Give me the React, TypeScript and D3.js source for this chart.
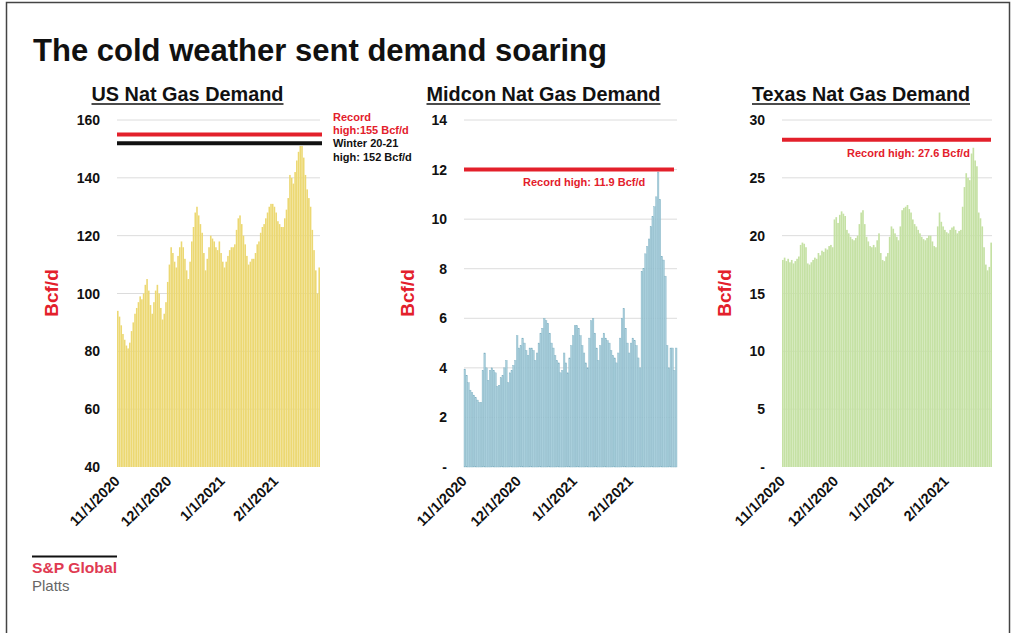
import React from 'react';
import * as d3 from 'd3';

// daily demand, 11/1/2020 through 2/26/2021 (Bcf/d)
const dates = d3.timeDay.range(new Date(2020, 10, 1), new Date(2021, 1, 27));
const dateTicks = [new Date(2020, 10, 1), new Date(2020, 11, 1), new Date(2021, 0, 1), new Date(2021, 1, 1)];

const usDemand = [
  94, 92, 89, 86, 84, 82, 81, 83, 87, 90,
  93, 95, 97, 99, 98, 100, 103, 105, 101, 96,
  93, 97, 101, 103, 100, 95, 91, 93, 97, 104,
  110, 116, 114, 111, 109, 113, 116, 118, 116, 112,
  108, 105, 111, 118, 123, 128, 130, 127, 124, 121,
  114, 108, 112, 116, 120, 119, 118, 116, 115, 118,
  114, 111, 109, 111, 113, 115, 116, 116, 117, 122,
  126, 127, 124, 120, 117, 113, 110, 111, 112, 112,
  114, 117, 118, 121, 123, 124, 126, 128, 130, 131,
  131, 130, 128, 125, 124, 123, 123, 126, 129, 133,
  141, 140, 138, 142, 146, 149, 151, 151, 147, 141,
  136, 133, 130, 122, 115, 108, 100, 109,
];

const midconDemand = [
  3.95, 3.7, 3.4, 3.1, 3.0, 2.9, 2.8, 2.7, 2.6, 2.6,
  3.9, 4.6, 4.0, 3.5, 3.9, 4.0, 3.9, 3.8, 3.25, 3.3,
  3.6, 3.7, 4.0, 4.3, 3.4, 3.8, 3.9, 4.1, 4.3, 5.3,
  4.8, 4.9, 5.2, 5.0, 4.7, 4.5, 4.8, 4.8, 4.7, 4.3,
  4.6, 5.0, 5.4, 5.6, 6.0, 5.9, 5.8, 5.4, 5.0, 4.8,
  4.5, 4.3, 4.2, 3.8, 3.9, 4.6, 4.2, 3.8, 4.4, 4.9,
  5.3, 5.7, 5.7, 5.6, 5.3, 4.9, 4.6, 4.2, 4.0, 5.2,
  5.9, 6.0, 5.4, 4.8, 4.3, 4.9, 5.2, 5.4, 5.2, 5.1,
  5.0, 4.7, 4.5, 4.4, 4.2, 4.6, 5.2, 6.0, 6.4, 5.6,
  5.0, 4.6, 5.0, 5.2, 5.1, 4.9, 4.4, 4.0, 7.9, 8.0,
  8.6, 8.9, 9.2, 9.7, 10.1, 10.5, 10.9, 11.9, 10.8, 8.5,
  8.35, 7.7, 4.9, 4.0, 4.8, 4.8, 3.9, 4.8,
];

const texasDemand = [
  17.9, 18.1, 17.8, 18.0, 17.7, 17.9, 17.6, 17.8, 18.0, 18.2,
  19.2, 19.4, 19.3, 19.0, 17.6, 17.5, 17.7, 17.9, 18.1, 18.0,
  18.5, 18.3, 18.7, 18.6, 18.9, 18.8, 19.1, 19.2, 19.0, 21.4,
  21.6, 21.1, 21.8, 22.1, 21.9, 21.7, 20.5, 20.2, 19.9, 19.7,
  19.6, 19.8, 20.0, 21.0, 22.0, 22.2, 21.0, 19.9, 19.5, 19.1,
  19.0, 19.2, 19.0, 19.6, 20.2, 18.5, 17.9, 17.8, 18.2, 18.5,
  19.9, 20.8, 20.6, 20.2, 19.9, 19.6, 20.8, 22.2, 22.4, 22.5,
  22.65, 22.3, 22.0, 21.4, 21.0, 20.8, 20.5, 20.2, 19.9, 19.7,
  19.6, 19.8, 20.0, 20.0, 19.5, 19.1, 19.0, 20.8, 22.0, 21.2,
  20.8, 20.5, 20.3, 20.2, 20.5, 20.7, 20.8, 20.5, 20.2, 20.4,
  20.5, 22.5, 24.2, 25.4, 25.0, 24.8, 27.1, 27.6, 26.5, 26.0,
  22.0, 21.5, 20.8, 19.0, 17.5, 17.0, 17.3, 19.4,
];

const usTicks = [40, 60, 80, 100, 120, 140, 160];
const midconTicks = [0, 2, 4, 6, 8, 10, 12, 14];
const texasTicks = [0, 5, 10, 15, 20, 25, 30];

const RED = '#e3202b';
const FONT = '"Liberation Sans", Arial, sans-serif';

const panels = [
  {
    title: 'US Nat Gas Demand', titleX: 187.5, titleW: 192,
    values: usDemand, ticks: usTicks, left: 117, right: 320, yTitleX: 58,
    fill: '#ecd872', stroke: 'none', pad: 0.08,
    lines: [{ value: 155, color: RED, x2: 322 }, { value: 152, color: '#111', x2: 322 }],
    notes: [
      { text: 'Record', x: 333, y: 121, color: RED },
      { text: 'high:155 Bcf/d', x: 333, y: 134, color: RED },
      { text: 'Winter 20-21', x: 333, y: 147, color: '#111' },
      { text: 'high: 152 Bcf/d', x: 333, y: 161, color: '#111' },
    ],
  },
  {
    title: 'Midcon Nat Gas Demand', titleX: 543.5, titleW: 234,
    values: midconDemand, ticks: midconTicks, left: 464, right: 677, yTitleX: 414,
    fill: '#a9cfdc', stroke: '#82b2c3', pad: 0.12,
    lines: [{ value: 12, color: RED, x2: 674 }],
    notes: [{ text: 'Record high: 11.9 Bcf/d', x: 523, y: 185.5, color: RED }],
  },
  {
    title: 'Texas Nat Gas Demand', titleX: 861, titleW: 218,
    values: texasDemand, ticks: texasTicks, left: 782, right: 992, yTitleX: 731,
    fill: '#c5e1a4', stroke: 'none', pad: 0.06,
    lines: [{ value: 28.3, color: RED, x2: 991 }],
    notes: [{ text: 'Record high: 27.6 Bcf/d', x: 847, y: 157, color: RED }],
  },
];

const fmt = d3.timeFormat('%-m/%-d/%Y');
const top = 120;
const bottom = 467;

function Panel({ p }) {
  const y = d3.scaleLinear().domain(d3.extent(p.ticks)).range([bottom, top]);
  const x = d3.scaleBand().domain(d3.range(dates.length)).range([p.left, p.right]).paddingInner(p.pad);
  const idx = (d) => dates.findIndex(e => +e === +d);
  const yMin = d3.min(p.ticks);

  return (
    <g>
      <text x={p.titleX} y={100.5} textAnchor="middle" fontSize={19.5} fontWeight="bold"
        textLength={p.titleW} lengthAdjust="spacingAndGlyphs" fill="#111">{p.title}</text>
      <line x1={p.titleX - p.titleW / 2} x2={p.titleX + p.titleW / 2} y1={104} y2={104} stroke="#111" strokeWidth={1.5} />

      {p.ticks.filter(t => t !== yMin).map(t => (
        <line key={t} x1={p.left} x2={p.right} y1={y(t)} y2={y(t)} stroke="#dcdcdc" strokeWidth={1} />
      ))}

      {p.values.map((v, i) => (
        <rect key={i} x={x(i)} width={x.bandwidth()} y={y(v)} height={bottom - y(v)}
          fill={p.fill} stroke={p.stroke} strokeWidth={0.4} />
      ))}

      {p.lines.map((l, i) => (
        <line key={i} x1={p.left} x2={l.x2} y1={y(l.value)} y2={y(l.value)} stroke={l.color} strokeWidth={4} />
      ))}
      {p.notes.map((n, i) => (
        <text key={i} x={n.x} y={n.y} fontSize={11} fontWeight="bold" fill={n.color}>{n.text}</text>
      ))}

      {p.ticks.map(t => (
        <text key={t} x={p.left - 17} y={y(t) + 5} textAnchor="end" fontSize={14} fontWeight="bold" fill="#111">
          {t === 0 ? '-' : t}
        </text>
      ))}

      <text transform={`translate(${p.yTitleX},293) rotate(-90)`} textAnchor="middle" fontSize={19}
        fontWeight="bold" fill={RED}>Bcf/d</text>

      {dateTicks.map(d => {
        const xi = x(idx(d)) + x.bandwidth() / 2;
        return (
          <text key={+d} transform={`translate(${xi + 3},482) rotate(-45)`} textAnchor="end" fontSize={14.5}
            fontWeight="bold" fill="#111">{fmt(d)}</text>
        );
      })}
    </g>
  );
}

export default function App() {
  return (
    <svg width={1016} height={633} style={{ position: 'absolute', left: 0, top: 0, background: '#fff' }}
      fontFamily={FONT}>
      <rect x={0} y={0} width={1016} height={633} fill="#fff" />
      <rect x={6.5} y={2.5} width={1003} height={640} fill="none" stroke="#444" strokeWidth={1.5} />

      <text x={33} y={61} fontSize={31} fontWeight="bold" textLength={574} lengthAdjust="spacingAndGlyphs"
        fill="#111">The cold weather sent demand soaring</text>

      {panels.map(p => <Panel key={p.title} p={p} />)}

      <line x1={32} x2={117} y1={556.5} y2={556.5} stroke="#111" strokeWidth={2} />
      <text x={32} y={573} fontSize={15} fontWeight="bold" fill="#e03a52" textLength={85}
        lengthAdjust="spacingAndGlyphs">S&amp;P Global</text>
      <text x={32} y={591} fontSize={15} fill="#666">Platts</text>
    </svg>
  );
}
